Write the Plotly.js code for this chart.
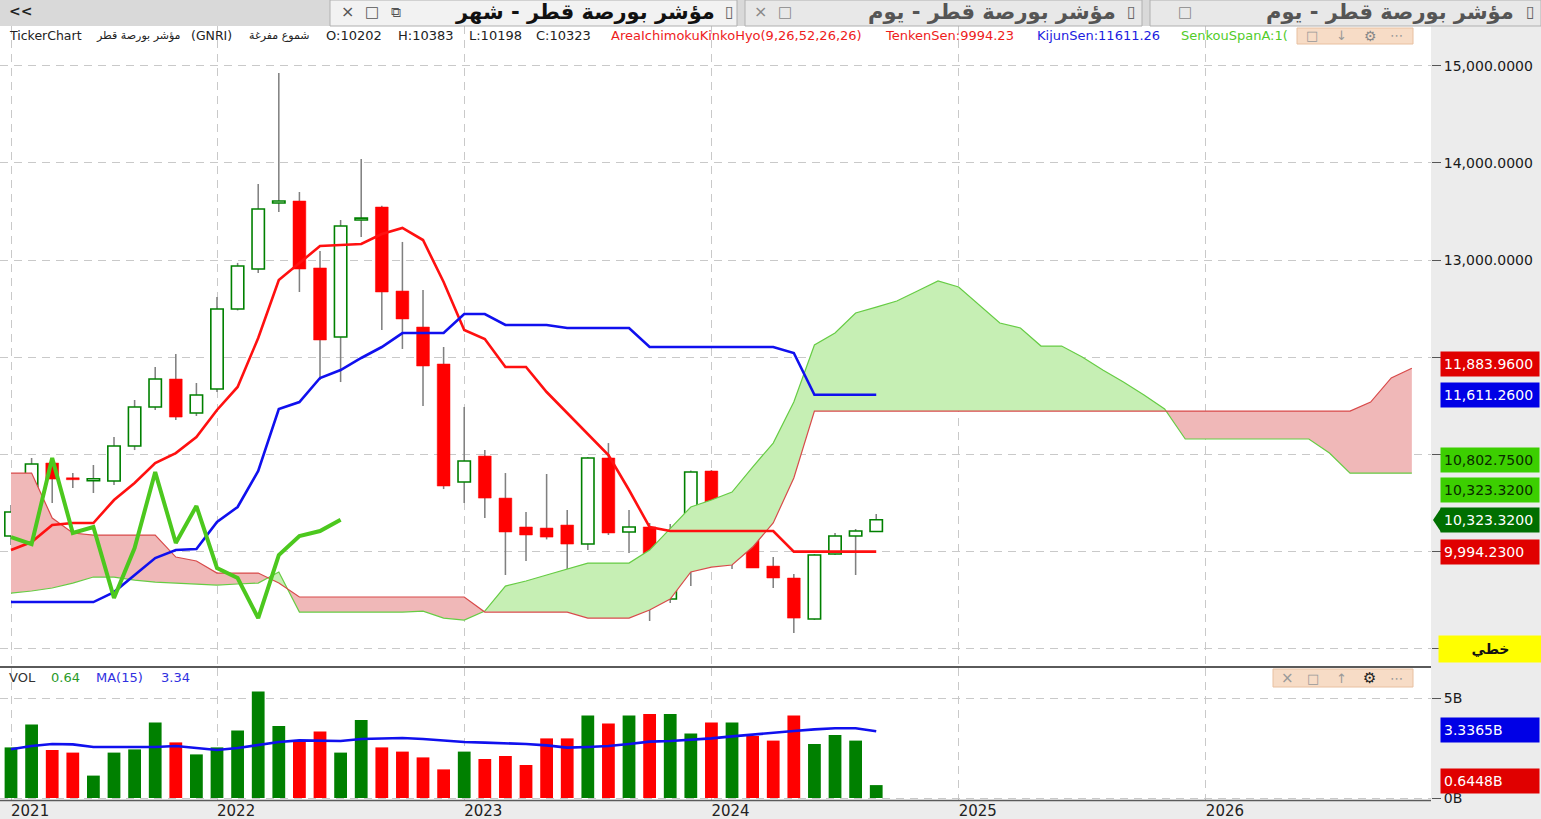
<!DOCTYPE html>
<html><head><meta charset="utf-8">
<script src="https://cdn.plot.ly/plotly-3.0.1.min.js"></script>
<style>html,body{margin:0;padding:0;background:#fff;overflow:hidden}#chart{width:1541px;height:819px}</style>
</head><body><div id="chart"></div>
<script>
// ---------------- DATA (monthly, Mar 2021 .. Sep 2024; cloud projected 26 months ahead) ----------------
const yearTickIdx = [0, 10, 22, 34, 46, 58];
const yearLabels  = ['2021', '2022', '2023', '2024', '2025', '2026'];

const open  = [10155,10361,10907,10745,10725,10722,11083,11485,11773,11423,11670,12495,12907,13588,13608,12918,12206,13412,13546,12680,12309,11928,10711,10979,10546,10248,10237,10268,10072,10959,10196,10248,9505,10031,10825,10062,10474,9845,9722,9299,9969,10155,10202];
const high  = [10474,10959,10948,10804,10887,11175,11557,11897,12031,11732,12619,12970,13784,14928,13701,13093,13412,14041,13560,13186,12691,12103,11485,11041,10804,10402,10794,10423,10970,11113,10423,10289,10278,10830,10835,10526,10515,9938,9763,9969,10186,10227,10383];
const low   = [10062,10340,10495,10650,10598,10681,11041,11454,11350,11392,11639,12480,12866,13495,12670,11763,11742,13237,12278,12083,11495,10639,10495,10340,9753,9897,10120,9681,10010,10165,9979,9279,9464,9639,10031,9814,9825,9619,9155,9290,9960,9753,10198];
const close = [10402,10897,10742,10735,10735,11083,11485,11773,11381,11608,12495,12938,13526,13600,12907,12175,13351,13425,12670,12392,11907,10670,10928,10546,10196,10165,10144,10072,10959,10186,10248,9516,10031,10814,10083,10464,9825,9722,9309,9959,10155,10206,10323];
const lastPrice = 10323.32;

const volumeB = [2.53,3.68,2.40,2.27,1.12,2.27,2.43,3.77,2.78,2.18,2.53,3.37,5.32,3.60,2.90,3.32,2.27,3.90,2.53,2.32,2.03,1.43,2.32,1.95,2.10,1.65,2.98,2.98,4.12,3.73,4.12,4.20,4.20,3.23,3.77,3.77,3.10,2.87,4.12,2.70,3.15,2.87,0.6448];
const volMA15 = [2.44,2.60,2.70,2.68,2.55,2.55,2.55,2.55,2.60,2.50,2.40,2.50,2.65,2.80,2.88,2.85,2.85,2.95,2.98,3.00,2.95,2.87,2.80,2.77,2.75,2.70,2.63,2.52,2.55,2.60,2.70,2.82,2.85,2.90,2.98,3.08,3.18,3.25,3.35,3.43,3.49,3.49,3.3365];

const tenkanSen = [10010,10093,10268,10289,10289,10526,10701,10907,11010,11175,11454,11691,12196,12794,12969,13144,13155,13165,13268,13330,13206,12773,12278,12186,11897,11897,11639,11423,11217,10990,10629,10247,10206,10206,10206,10206,10206,10206,9994,9994,9994,9994,9994.23];
const kijunSen  = [9474,9474,9474,9474,9474,9577,9753,9928,10010,10021,10299,10454,10825,11464,11536,11784,11866,11990,12103,12247,12247,12247,12443,12443,12330,12330,12330,12299,12299,12299,12299,12103,12103,12103,12103,12103,12103,12103,12041,11611.26,11611.26,11611.26,11611.26];
const chikouSpan = [10144,10072,10959,10186,10248,9516,10031,10814,10083,10464,9825,9722,9309,9959,10155,10206,10323.32];

const senkouSpanA = [9567,9588,9619,9670,9732,9732,9701,9680,9670,9660,9649,9660,9670,9784,9371,9371,9371,9371,9371,9371,9381,9309,9289,9381,9639,9691,9753,9814,9876,9876,9876,10010,10237,10454,10526,10608,10866,11113,11536,12124,12247,12454,12515,12577,12680,12784,12722,12536,12351,12299,12113,12113,12000,11866,11742,11608,11464,11155,11155,11155,11155,11155,11155,11155,11010,10802.75,10802.75,10802.75,10802.75];
const senkouSpanB = [10804,10804,10340,10186,10165,10165,10165,10165,9938,9897,9773,9773,9773,9670,9526,9526,9526,9526,9526,9526,9526,9526,9526,9371,9371,9371,9371,9371,9309,9309,9309,9392,9505,9784,9835,9856,10041,10289,10753,11443,11443,11443,11443,11443,11443,11443,11443,11443,11443,11443,11443,11443,11443,11443,11443,11443,11443,11443,11443,11443,11443,11443,11443,11443,11443,11443,11536,11784,11883.96];

const priceTicks = [9000,10000,11000,12000,13000,14000,15000];
const priceTickShown = [false,false,false,true,true,true,true];

// ---------------- HELPERS ----------------
const W = 1541, H = 819;
const PX = x => x / W, PY = y => 1 - y / H;
const idx = close.map((_, i) => i);
const up = close.map((c, i) => c >= open[i]);
const dn = up.map(u => !u);
const fmt = v => v.toLocaleString('en-US', {minimumFractionDigits: 4, maximumFractionDigits: 4});
const last = a => a[a.length - 1];
function pick(arr, cond) { return arr.filter((_, i) => cond[i]); }
const FONT = 'DejaVu Sans, Arial, sans-serif';

const traces = [];

// Cloud fill polygons (split where span A and span B cross)
(function () {
  const A = senkouSpanA, B = senkouSpanB, n = A.length;
  const polys = [];
  let cur = null;
  for (let i = 0; i < n; i++) {
    const s = A[i] >= B[i] ? 1 : -1;
    if (!cur) { cur = {s, top: [[i, A[i]]], bot: [[i, B[i]]]}; continue; }
    if (s === cur.s) { cur.top.push([i, A[i]]); cur.bot.push([i, B[i]]); continue; }
    const d0 = A[i - 1] - B[i - 1], d1 = A[i] - B[i];
    const t = d0 / (d0 - d1);
    const xc = i - 1 + t, yc = A[i - 1] + t * (A[i] - A[i - 1]);
    cur.top.push([xc, yc]); cur.bot.push([xc, yc]); polys.push(cur);
    cur = {s, top: [[xc, yc], [i, A[i]]], bot: [[xc, yc], [i, B[i]]]};
  }
  polys.push(cur);
  polys.forEach(p => {
    const pts = p.top.concat(p.bot.slice().reverse());
    traces.push({type: 'scatter', mode: 'lines', x: pts.map(q => q[0]), y: pts.map(q => q[1]),
      fill: 'toself', fillcolor: p.s > 0 ? 'rgb(198,239,180)' : 'rgb(240,184,184)',
      line: {width: 0}, hoverinfo: 'skip', xaxis: 'x', yaxis: 'y'});
  });
})();

const fidx = senkouSpanA.map((_, i) => i);
traces.push({type: 'scatter', mode: 'lines', x: fidx, y: senkouSpanA, line: {color: '#66cc44', width: 1.2}, xaxis: 'x', yaxis: 'y'});
traces.push({type: 'scatter', mode: 'lines', x: fidx, y: senkouSpanB, line: {color: '#d84a4a', width: 1.2}, xaxis: 'x', yaxis: 'y'});

// Candles: wicks + bodies
traces.push({type: 'bar', x: idx, y: high.map((h, i) => h - low[i]), base: low, width: 0.075,
  marker: {color: '#808080', line: {width: 0}}, xaxis: 'x', yaxis: 'y'});
const minBody = 20;
traces.push({type: 'bar', x: pick(idx, up), base: pick(open, up),
  y: pick(idx, up).map(i => Math.max(close[i] - open[i], minBody)), width: 0.6,
  marker: {color: 'rgba(255,255,255,1)', line: {color: '#008000', width: 1.6}}, xaxis: 'x', yaxis: 'y'});
traces.push({type: 'bar', x: pick(idx, dn), base: pick(close, dn),
  y: pick(idx, dn).map(i => Math.max(open[i] - close[i], minBody)), width: 0.62,
  marker: {color: '#ff0000', line: {color: '#ff0000', width: 0.5}}, xaxis: 'x', yaxis: 'y'});

// Ichimoku lines
traces.push({type: 'scatter', mode: 'lines', x: idx, y: tenkanSen, line: {color: '#ff1010', width: 2.6}, xaxis: 'x', yaxis: 'y'});
traces.push({type: 'scatter', mode: 'lines', x: idx, y: kijunSen, line: {color: '#1010ee', width: 2.6}, xaxis: 'x', yaxis: 'y'});
traces.push({type: 'scatter', mode: 'lines', x: chikouSpan.map((_, i) => i), y: chikouSpan, line: {color: '#4cc81e', width: 4}, xaxis: 'x', yaxis: 'y'});

// Volume
traces.push({type: 'bar', x: idx, y: volumeB, width: 0.62,
  marker: {color: up.map(u => u ? '#008000' : '#ff0000'), line: {width: 0}}, xaxis: 'x', yaxis: 'y2'});
traces.push({type: 'scatter', mode: 'lines', x: idx, y: volMA15, line: {color: '#1010ee', width: 2.6}, xaxis: 'x', yaxis: 'y2'});

// ---------------- DECORATION ----------------
const shapes = [];
const ann = [];
function rect(x0, y0, x1, y1, fill, lineColor, layer) {
  shapes.push({type: 'rect', xref: 'paper', yref: 'paper', x0: PX(x0), x1: PX(x1), y0: PY(y1), y1: PY(y0),
    fillcolor: fill, line: {width: lineColor ? 1 : 0, color: lineColor || fill}, layer: layer || 'above'});
}
function hline(x0, x1, y, color, w) {
  shapes.push({type: 'line', xref: 'paper', yref: 'paper', x0: PX(x0), x1: PX(x1), y0: PY(y), y1: PY(y), line: {color, width: w}, layer: 'above'});
}
function text(x, y, t, size, color, anchor, extra) {
  ann.push(Object.assign({xref: 'paper', yref: 'paper', x: PX(x), y: PY(y), text: t, showarrow: false,
    xanchor: anchor || 'left', yanchor: 'middle', borderpad: 0,
    font: {size, color, family: FONT}}, extra || {}));
}
function box(yPix, label, bg, fg) {
  ann.push({xref: 'paper', yref: 'paper', x: PX(1440), y: PY(yPix), xanchor: 'left', yanchor: 'middle', showarrow: false,
    text: label, bgcolor: bg, borderpad: 3, width: 92, height: 18, align: 'left',
    font: {size: 14, color: fg, family: FONT}});
}

// axis background areas
rect(1431, 26, 1541, 819, '#ececec', null, 'below');
rect(0, 801, 1541, 819, '#ececec', null, 'below');
hline(0, 1431, 667, '#5a5a5a', 2);
hline(0, 1431, 800.5, '#5a5a5a', 1.5);

// tab bar
rect(0, 0, 1541, 26, '#d9d9d9');
rect(330, 0, 737, 26, '#f2f2f2', '#b0b0b0');
rect(745, 0, 1142, 26, '#e8e8e8', '#b0b0b0');
rect(1150, 0, 1541, 26, '#e8e8e8', '#b0b0b0');
text(8, 11, '<b>&lt;&lt;</b>', 14, '#222');
text(347, 12, '×', 16, '#555', 'center');
text(372, 12, '□', 15, '#555', 'center');
text(396, 12, '⧉', 14, '#555', 'center');
text(716, 12, '<b>مؤشر بورصة قطر - شهر</b>', 21, '#111', 'right');
text(729, 12, '▯', 16, '#666', 'center');
text(760, 12, '×', 16, '#888', 'center');
text(785, 12, '□', 15, '#888', 'center');
text(1117, 12, '<b>مؤشر بورصة قطر - يوم</b>', 21, '#555', 'right');
text(1131, 12, '▯', 16, '#666', 'center');
text(1185, 12, '□', 15, '#888', 'center');
text(1515, 12, '<b>مؤشر بورصة قطر - يوم</b>', 21, '#555', 'right');
text(1530, 12, '▯', 16, '#666', 'center');

// header line
const hy = 36;
text(8, hy, 'TickerChart', 12.5, '#222');
text(182, hy, 'مؤشر بورصة قطر', 11, '#222', 'right');
text(190, hy, '(GNRI)', 12.5, '#222');
text(311, hy, 'شموع مفرغة', 11, '#222', 'right');
text(325, hy, 'O:' + last(open), 13, '#222');
text(397, hy, 'H:' + last(high), 13, '#222');
text(468, hy, 'L:' + last(low), 13, '#222');
text(535, hy, 'C:' + last(close), 13, '#222');
text(610, hy, 'AreaIchimokuKinkoHyo(9,26,52,26,26)', 13, '#ee1c1c');
text(884, hy, 'TenkenSen:' + last(tenkanSen), 13, '#ee1c1c');
text(1036, hy, 'KijunSen:' + last(kijunSen), 13, '#1c1ce0');
text(1180, hy, 'SenkouSpanA:1(', 13, '#52cc2a');
rect(1297, 28, 1413, 44, '#f7dcc6', '#e8c0a0');
text(1312, hy, '□', 13, '#999', 'center');
text(1341, hy, '↓', 13, '#999', 'center');
text(1370, hy, '⚙', 14, '#888', 'center');
text(1396, hy, '⋯', 13, '#999', 'center');

// volume header
const vy = 677;
text(8, vy, 'VOL', 13, '#333');
text(50, vy, '0.64', 13, '#2a9a2a');
text(95, vy, 'MA(15)', 13, '#3030e0');
text(160, vy, '3.34', 13, '#3030e0');
rect(1273, 669, 1413, 687, '#f7dcc6', '#e8c0a0');
text(1287, 678, '×', 15, '#999', 'center');
text(1313, 678, '□', 13, '#999', 'center');
text(1341, 678, '↑', 13, '#999', 'center');
text(1369, 678, '⚙', 15, '#222', 'center');
text(1396, 678, '⋯', 13, '#999', 'center');

// value boxes on price axis (stacked so they do not collide, as in the source)
box(364, fmt(last(senkouSpanB)), '#e00000', '#ffffff');
box(395, fmt(last(kijunSen)), '#0000e6', '#ffffff');
box(460, fmt(last(senkouSpanA)), '#3ccf00', '#0a2a00');
box(490, fmt(last(chikouSpan)), '#3ccf00', '#0a2a00');
box(520, fmt(lastPrice), '#006f00', '#ffffff');
box(552, fmt(last(tenkanSen)), '#e00000', '#ffffff');
shapes.push({type: 'path', xref: 'paper', yref: 'paper', layer: 'above',
  path: `M ${PX(1433)},${PY(520)} L ${PX(1441)},${PY(508)} L ${PX(1441)},${PY(532)} Z`,
  fillcolor: '#006f00', line: {width: 0}});
ann.push({xref: 'paper', yref: 'paper', x: PX(1438), y: PY(649), xanchor: 'left', yanchor: 'middle', showarrow: false,
  text: '<b>خطي</b>', bgcolor: '#ffff00', width: 99, height: 22, borderpad: 2,
  font: {size: 14, color: '#111', family: FONT}});
box(730, last(volMA15).toFixed(4) + 'B', '#0000e6', '#ffffff');
box(781, last(volumeB).toFixed(4) + 'B', '#e00000', '#ffffff');

const gridStyle = {showgrid: true, gridcolor: '#c9c9c9', gridwidth: 1, griddash: '8px,6px', zeroline: false, showline: false};
const layout = {
  width: W, height: H, margin: {l: 0, r: 0, t: 0, b: 0},
  paper_bgcolor: '#ffffff', plot_bgcolor: '#ffffff', showlegend: false, barmode: 'overlay', dragmode: false,
  xaxis: Object.assign({}, gridStyle, {domain: [0, PX(1431)], range: [-0.534, 68.93], anchor: 'y2',
    tickmode: 'array', tickvals: yearTickIdx, ticktext: yearLabels, ticks: '', ticklabelposition: 'outside right',
    tickfont: {size: 15, color: '#222', family: FONT}}),
  yaxis: Object.assign({}, gridStyle, {domain: [PY(666), PY(26)], range: [8815, 15412], side: 'right', anchor: 'x',
    tickmode: 'array', tickvals: priceTicks, ticktext: priceTicks.map((v, i) => priceTickShown[i] ? fmt(v) : ''),
    ticks: 'outside', ticklen: 9, tickcolor: '#555',
    tickfont: {size: 14, color: '#1a1a1a', family: FONT}}),
  yaxis2: Object.assign({}, gridStyle, {domain: [PY(800), PY(668)], range: [-0.1, 6.5], side: 'right', anchor: 'x',
    tickmode: 'array', tickvals: [0, 5], ticktext: ['0B', '5B'], ticks: 'outside', ticklen: 9, tickcolor: '#555',
    tickfont: {size: 14, color: '#1a1a1a', family: FONT}}),
  shapes, annotations: ann
};
Plotly.newPlot('chart', traces, layout, {staticPlot: true, displayModeBar: false});
</script></body></html>
